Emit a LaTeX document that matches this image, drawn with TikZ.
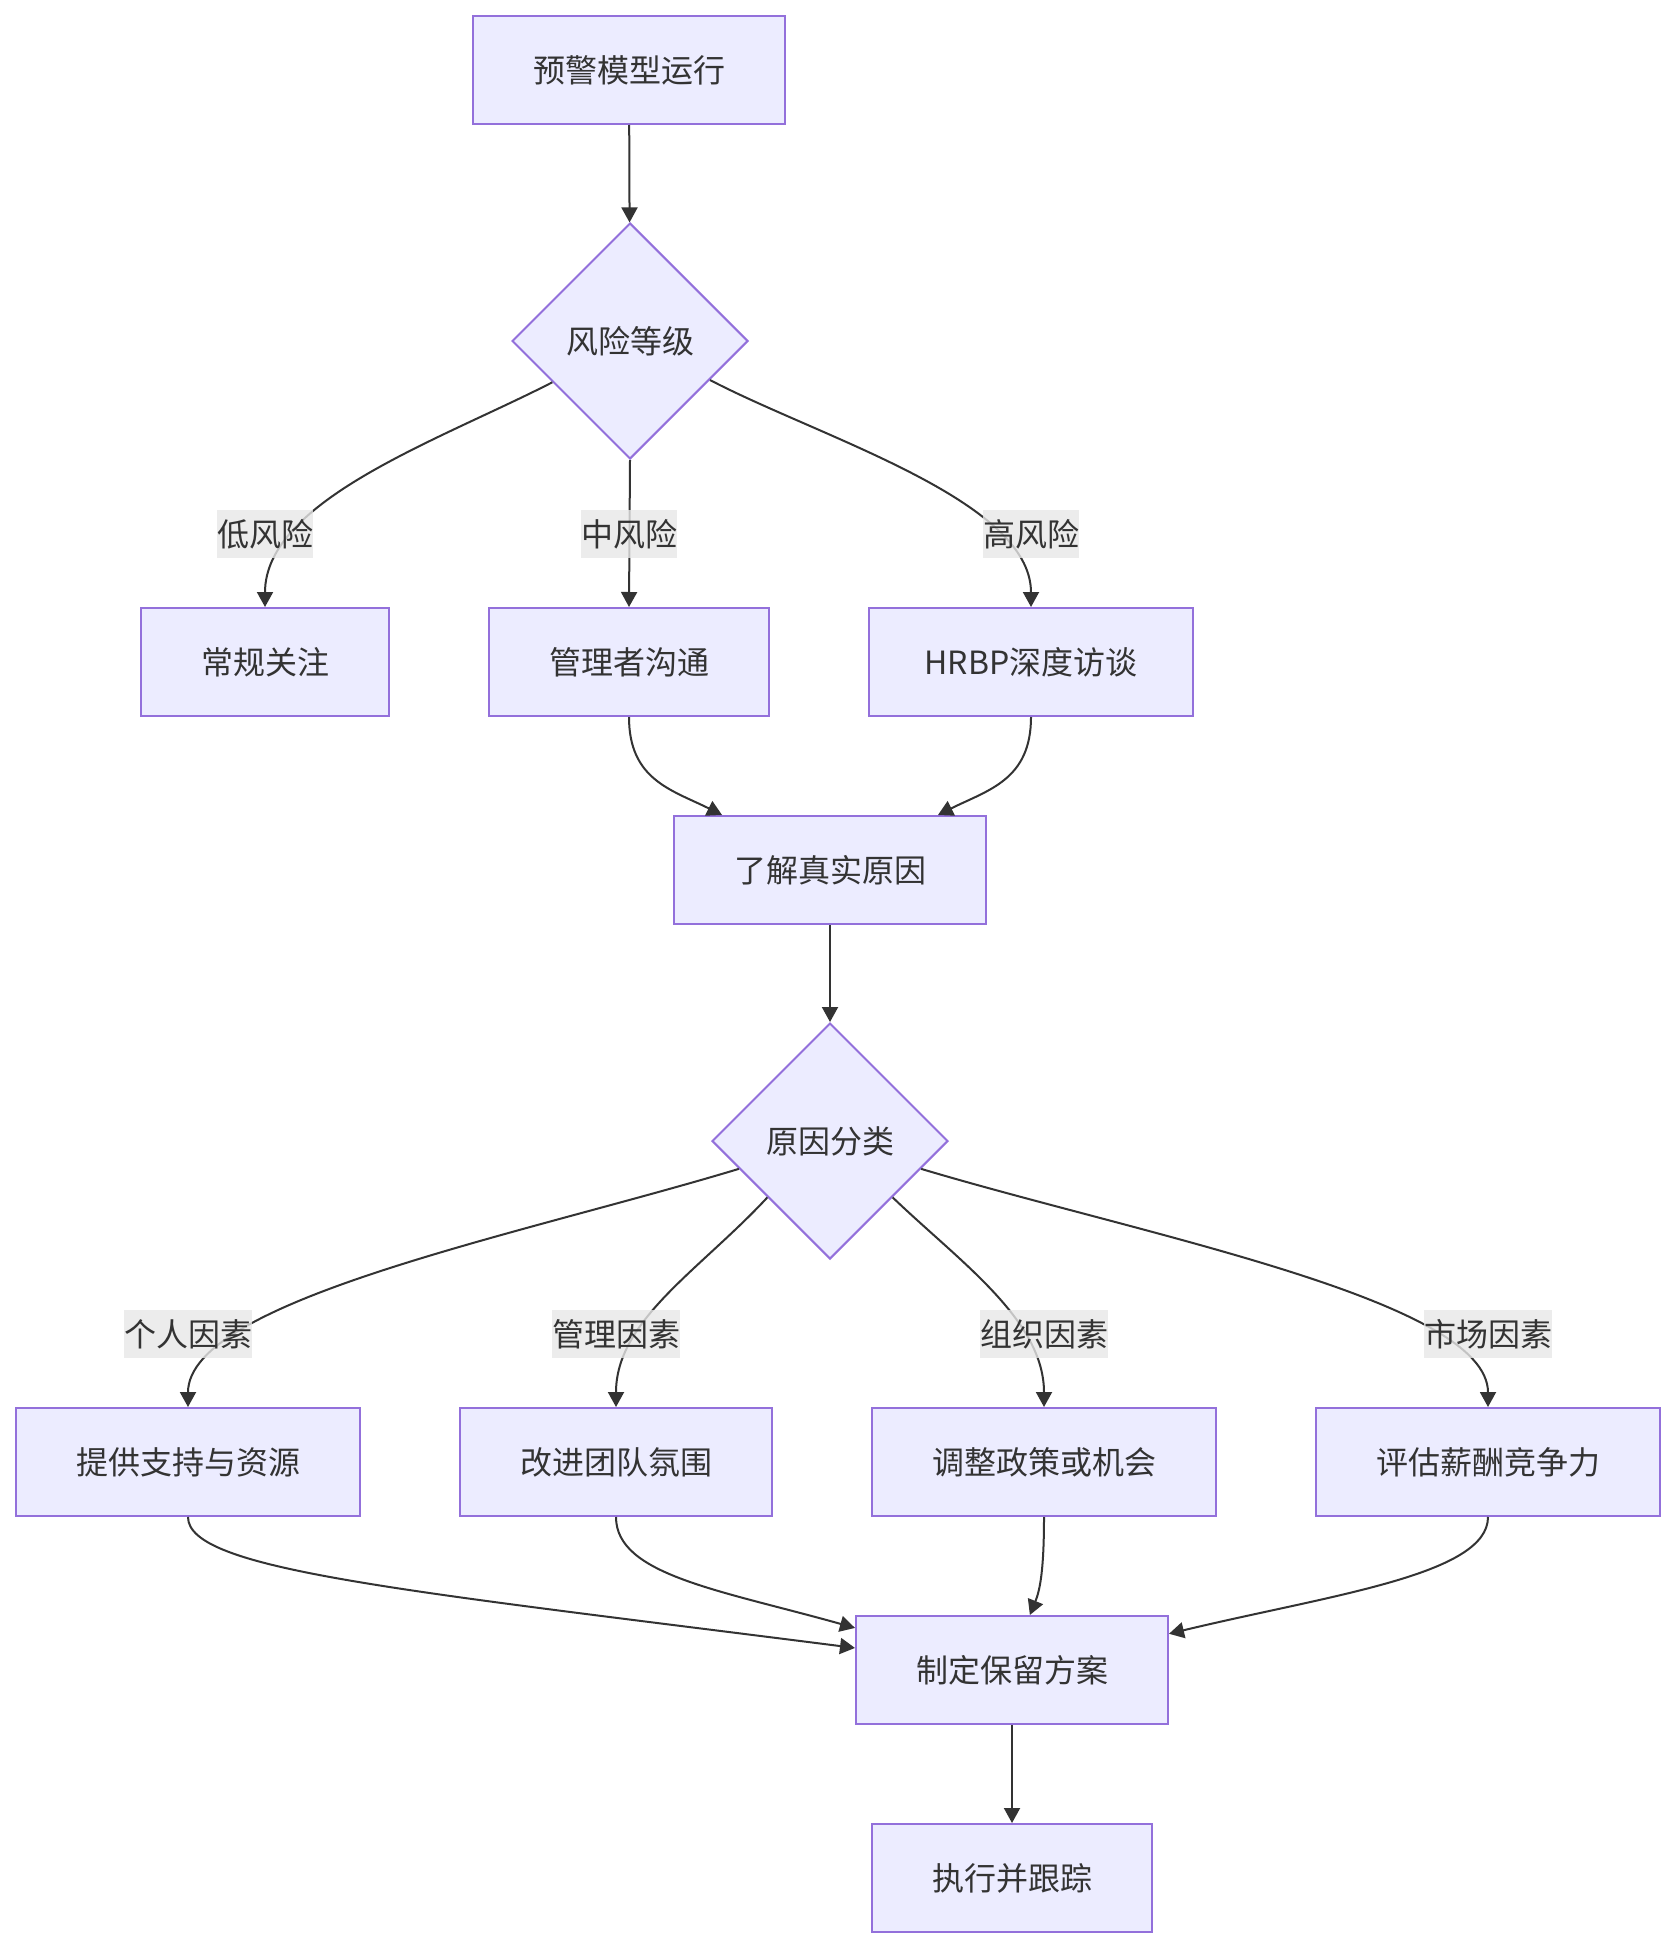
\documentclass[tikz,border=0pt]{standalone}
\usepackage{fontspec}
\setmainfont{Noto Sans CJK SC}
\usetikzlibrary{arrows.meta,shapes.geometric}
\definecolor{boxfill}{HTML}{ECECFF}
\definecolor{boxline}{HTML}{9370DB}
\definecolor{ink}{HTML}{333333}
\definecolor{tagbg}{HTML}{E8E8E8}
\newcommand{\flowfont}{\fontsize{16pt}{24pt}\selectfont}

\begin{document}
\begin{tikzpicture}[x=0.5pt,y=-0.5pt,
  box/.style={draw=boxline,fill=boxfill,line width=1pt,text=ink,font=\flowfont,
    minimum height=54pt,inner xsep=30pt,inner ysep=0pt},
  choice/.style={diamond,aspect=1,draw=boxline,fill=boxfill,line width=1pt,text=ink,
    font=\flowfont,minimum width=118pt,minimum height=118pt,inner sep=0pt},
  tag/.style={fill=tagbg,fill opacity=0.8,text opacity=1,text=ink,font=\flowfont,
    inner xsep=0pt,inner ysep=0pt,minimum height=24pt},
  flow/.style={draw=ink,line width=1pt,-{Triangle[length=7.5pt,width=8pt]}}]
  \path[use as bounding box,fill=white] (0,0) rectangle (1676,1948);
  \node[box] (run) at (629,70) {预警模型运行};
  \node[choice] (level) at (630,341) {风险等级};
  \node[box] (watch) at (265,662) {常规关注};
  \node[box] (talk) at (629,662) {管理者沟通};
  \node[box,inner xsep=27.75pt] (hrbp) at (1031,662) {HRBP深度访谈};
  \node[box] (cause) at (830,870) {了解真实原因};
  \node[choice] (sort) at (830,1141) {原因分类};
  \node[box] (support) at (188,1462) {提供支持与资源};
  \node[box] (team) at (616,1462) {改进团队氛围};
  \node[box] (policy) at (1044,1462) {调整政策或机会};
  \node[box] (pay) at (1488,1462) {评估薪酬竞争力};
  \node[box] (plan) at (1012,1670) {制定保留方案};
  \node[box] (track) at (1012,1878) {执行并跟踪};
  \draw[flow] (run) -- (level);
  \draw[flow] (level.208) .. controls (440,440) and (265,500) .. (watch.north);
  \draw[flow] (level.south) -- (talk.north);
  \draw[flow] (level.334) .. controls (821,438) and (1031,500) .. (hrbp.north);
  \draw[flow] (talk.south) .. controls (629,780) and (672,790) .. (cause.153);
  \draw[flow] (hrbp.south) .. controls (1031,780) and (988,790) .. (cause.27);
  \draw[flow] (cause) -- (sort);
  \draw[flow] (sort.197) .. controls (520,1235) and (188,1300) .. (support.north);
  \draw[flow] (sort.222) .. controls (700,1270) and (616,1320) .. (team.north);
  \draw[flow] (sort.318) .. controls (960,1262) and (1044,1320) .. (policy.north);
  \draw[flow] (sort.343) .. controls (1142,1235) and (1488,1300) .. (pay.north);
  \draw[flow] (support.south) .. controls (188,1570) and (400,1590) .. (plan.172);
  \draw[flow] (team.south) .. controls (616,1575) and (720,1590) .. (plan.165);
  \draw[flow] (policy.south) .. controls (1044,1570) and (1040,1590) .. (plan.72);
  \draw[flow] (pay.south) .. controls (1488,1575) and (1330,1595) .. (plan.13);
  \draw[flow] (plan) -- (track);
  \node[tag] (lowtag) at (265,534) {低风险};
  \node[tag] (midtag) at (629,534) {中风险};
  \node[tag] (hightag) at (1031,534) {高风险};
  \node[tag] (persontag) at (188,1334) {个人因素};
  \node[tag] (mgmttag) at (616,1334) {管理因素};
  \node[tag] (orgtag) at (1044,1334) {组织因素};
  \node[tag] (markettag) at (1488,1334) {市场因素};
\end{tikzpicture}
\end{document}
